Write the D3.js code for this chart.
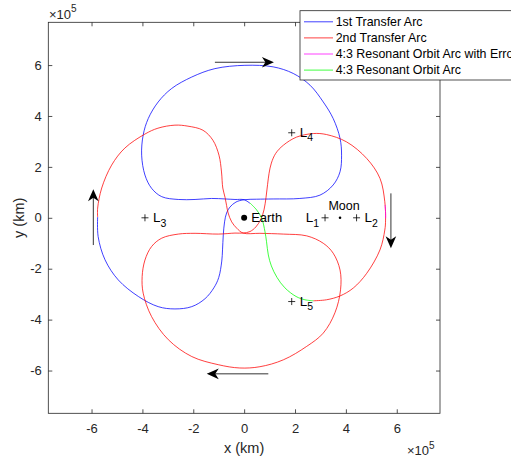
<!DOCTYPE html>
<html><head><meta charset="utf-8">
<script src="https://cdn.jsdelivr.net/npm/d3@7"></script>
<style>
html,body{margin:0;padding:0;background:#fff;}
svg{display:block;font-family:"Liberation Sans",Arial,Helvetica,sans-serif;}
</style></head><body>
<svg id="c" width="511" height="459"></svg>
<script>
// ---------- data (positions in units of 1e5 km) ----------
const UNIT = 1e5;
const xTicks = [-6, -4, -2, 0, 2, 4, 6];
const yTicks = [-6, -4, -2, 0, 2, 4, 6];
const xTickLabels = ["-6", "-4", "-2", "0", "2", "4", "6"];
const yTickLabels = ["-6", "-4", "-2", "0", "2", "4", "6"];
const legendLabels = ["1st Transfer Arc", "2nd Transfer Arc", "4:3 Resonant Orbit Arc with Error", "4:3 Resonant Orbit Arc"];
const seriesColors = ["#0000ff", "#ff0000", "#ff00ff", "#00ff00"];

const transfer1 = [[0.23,0.57],[0.0,0.71],[-0.36,0.72],[-0.75,0.74],[-1.28,0.76],[-1.93,0.72],[-2.59,0.72],[-3.24,0.83],[-3.64,1.16],[-3.90,1.68],[-4.03,2.46],[-3.97,3.25],[-3.77,3.90],[-3.38,4.55],[-2.85,5.08],[-2.06,5.53],[-1.15,5.86],[0.03,5.99],[1.14,5.93],[1.93,5.67],[2.59,5.21],[3.11,4.55],[3.50,3.90],[3.77,3.12],[3.83,2.46],[3.77,1.81],[3.50,1.29],[2.98,0.89],[2.19,0.76],[1.14,0.74],[0.49,0.73],[0.0,0.71],[-0.32,0.62],[-0.56,0.42],[-0.69,0.19],[-0.77,-0.16],[-0.82,-0.67],[-0.85,-1.26],[-0.88,-1.70],[-1.00,-2.35],[-1.19,-2.75],[-1.54,-3.18],[-2.06,-3.49],[-2.72,-3.58],[-3.38,-3.49],[-4.16,-3.09],[-4.95,-2.44],[-5.47,-1.65],[-5.74,-0.74],[-5.76,0.03]];

const transfer2 = [[-5.76,0.03],[-5.76,0.38],[-5.60,1.17],[-5.21,2.07],[-4.69,2.74],[-3.90,3.29],[-3.39,3.52],[-2.72,3.64],[-2.21,3.60],[-1.62,3.44],[-1.23,3.05],[-0.99,2.46],[-0.89,1.80],[-0.84,1.17],[-0.75,0.80],[-0.69,0.48],[-0.63,0.19],[-0.49,-0.16],[-0.29,-0.41],[-0.04,-0.60],[0.62,-0.61],[1.54,-0.64],[2.46,-0.71],[3.11,-1.00],[3.50,-1.39],[3.77,-2.05],[3.79,-2.83],[3.57,-3.73],[3.11,-4.53],[2.46,-5.05],[1.54,-5.58],[0.62,-5.85],[-0.17,-5.90],[-1.02,-5.77],[-2.06,-5.45],[-2.98,-4.79],[-3.64,-3.88],[-3.97,-2.96],[-4.01,-2.31],[-3.90,-1.66],[-3.64,-1.13],[-3.24,-0.80],[-2.59,-0.64],[-1.93,-0.61],[-1.02,-0.64],[-0.36,-0.60],[-0.04,-0.60],[0.23,-0.54],[0.46,-0.36],[0.66,-0.05],[0.78,0.31],[0.86,0.80],[0.92,1.30],[0.98,1.75],[1.07,2.15],[1.24,2.53],[1.54,2.85],[2.06,3.17],[2.72,3.31],[3.24,3.27],[4.03,2.98],[4.82,2.33],[5.34,1.55],[5.53,0.63],[5.56,-0.09],[5.53,-0.48],[5.34,-1.26],[4.82,-2.18],[4.29,-2.76],[3.77,-3.07],[3.24,-3.22],[2.72,-3.26]];

const resonantErr = [[5.54,0.50],[5.56,0.20],[5.56,-0.02]];

const resonant = [[0.23,0.58],[0.49,0.31],[0.69,-0.02],[0.82,-0.55],[0.88,-0.94],[0.95,-1.46],[1.07,-1.89],[1.29,-2.34],[1.60,-2.75],[2.04,-3.09],[2.39,-3.22],[2.72,-3.26]];

const bodies = [{name: "Earth", x: 0, y: 0, r: 3}, {name: "Moon", x: 3.77, y: 0, r: 1.3}];
const lagrange = [
  {name: "L", sub: "1", x: 3.18, y: 0, side: "left"},
  {name: "L", sub: "2", x: 4.42, y: 0, side: "right"},
  {name: "L", sub: "3", x: -3.90, y: 0, side: "right"},
  {name: "L", sub: "4", x: 1.87, y: 3.34, side: "right"},
  {name: "L", sub: "5", x: 1.87, y: -3.29, side: "right"}
];
const arrows = [
  {from: [-1.15, 6.11], to: [1.17, 6.11]},
  {from: [5.77, 0.96], to: [5.77, -1.20]},
  {from: [0.95, -6.13], to: [-1.47, -6.13]},
  {from: [-5.93, -1.07], to: [-5.93, 1.12]}
];

// ---------- chart ----------
const svg = d3.select("#c");
const L = 48.3, R = 440, T = 22.3, B = 413.3;
const x = d3.scaleLinear().domain([-7.7 * UNIT, 7.7 * UNIT]).range([L, R]);
const y = d3.scaleLinear().domain([-7.68 * UNIT, 7.68 * UNIT]).range([B, T]);
const axisCol = "#262626";

svg.append("rect").attr("width", 511).attr("height", 459).attr("fill", "#fff");

const tickVals = a => a.map(v => v * UNIT);
const gB = svg.append("g").attr("transform", `translate(0,${B})`)
  .call(d3.axisBottom(x).tickValues(tickVals(xTicks)).tickFormat((d, i) => xTickLabels[i]).tickSizeInner(-4).tickSizeOuter(0).tickPadding(10));
const gL = svg.append("g").attr("transform", `translate(${L},0)`)
  .call(d3.axisLeft(y).tickValues(tickVals(yTicks)).tickFormat((d, i) => yTickLabels[i]).tickSizeInner(-4).tickSizeOuter(0).tickPadding(6.5));
const gT = svg.append("g").attr("transform", `translate(0,${T})`)
  .call(d3.axisTop(x).tickValues(tickVals(xTicks)).tickFormat("").tickSizeInner(-4).tickSizeOuter(0));
const gR = svg.append("g").attr("transform", `translate(${R},0)`)
  .call(d3.axisRight(y).tickValues(tickVals(yTicks)).tickFormat("").tickSizeInner(-4).tickSizeOuter(0));
[gB, gL, gT, gR].forEach(g => {
  g.select(".domain").remove();
  g.selectAll("line").attr("stroke", axisCol).attr("stroke-width", 0.8);
  g.selectAll("text").attr("fill", axisCol).attr("font-size", 13).attr("font-family", null);
});
svg.append("rect").attr("x", L).attr("y", T).attr("width", R - L).attr("height", B - T)
  .attr("fill", "none").attr("stroke", axisCol).attr("stroke-width", 0.8);

// exponent labels
const exp1 = svg.append("text").attr("x", 49).attr("y", 18.5).attr("fill", axisCol).attr("font-size", 13);
exp1.append("tspan").text("\u00d710");
exp1.append("tspan").attr("dy", -6.5).attr("font-size", 10).text("5");
const exp2 = svg.append("text").attr("x", 407).attr("y", 455).attr("fill", axisCol).attr("font-size", 13);
exp2.append("tspan").text("\u00d710");
exp2.append("tspan").attr("dy", -6.5).attr("font-size", 10).text("5");

// axis titles
svg.append("text").attr("x", (L + R) / 2).attr("y", 452.5).attr("text-anchor", "middle")
  .attr("font-size", 14.5).attr("fill", axisCol).text("x (km)");
svg.append("text").attr("transform", `translate(24,${y(0)}) rotate(-90)`).attr("text-anchor", "middle")
  .attr("font-size", 14.5).attr("fill", axisCol).text("y (km)");

// curves
const line = d3.line().x(d => x(d[0] * UNIT)).y(d => y(d[1] * UNIT)).curve(d3.curveCatmullRom.alpha(0.5));
const series = [transfer1, transfer2, resonantErr, resonant];
series.forEach((s, i) => {
  svg.append("path").attr("d", line(s)).attr("fill", "none")
    .attr("stroke", seriesColors[i]).attr("stroke-width", 0.75);
});

// bodies
bodies.forEach(b => {
  svg.append("circle").attr("cx", x(b.x * UNIT)).attr("cy", y(b.y * UNIT)).attr("r", b.r).attr("fill", "#000");
});
svg.append("text").attr("x", x(0) + 7).attr("y", y(0) + 4.3).attr("font-size", 13).attr("fill", "#000").text("Earth");
svg.append("text").attr("x", x(3.77 * UNIT) + 4).attr("y", y(0) - 7.5).attr("text-anchor", "middle")
  .attr("font-size", 12.5).attr("fill", "#000").text("Moon");

// Lagrange points
lagrange.forEach(p => {
  const px = x(p.x * UNIT), py = y(p.y * UNIT);
  svg.append("path").attr("d", `M${px - 3.5},${py}H${px + 3.5}M${px},${py - 3.5}V${py + 3.5}`)
    .attr("stroke", "#000").attr("stroke-width", 0.8);
  const t = svg.append("text").attr("font-size", 13.5).attr("fill", "#000")
    .attr("y", py + 4.2)
    .attr("x", p.side === "left" ? px - 6 : px + 8)
    .attr("text-anchor", p.side === "left" ? "end" : "start");
  t.append("tspan").text(p.name);
  t.append("tspan").attr("dy", 4.5).attr("font-size", 10.5).text(p.sub);
});

// arrows
arrows.forEach(a => {
  const x0 = x(a.from[0] * UNIT), y0 = y(a.from[1] * UNIT);
  const x1 = x(a.to[0] * UNIT), y1 = y(a.to[1] * UNIT);
  const ang = Math.atan2(y1 - y0, x1 - x0);
  const len = 12, hw = 5.3, notch = 3.5;
  const c = Math.cos(ang), s = Math.sin(ang);
  const P = (u, v) => [x1 - u * c - v * s, y1 - u * s + v * c];
  svg.append("line").attr("x1", x0).attr("y1", y0).attr("x2", P(notch + 1, 0)[0]).attr("y2", P(notch + 1, 0)[1])
    .attr("stroke", "#000").attr("stroke-width", 0.8);
  const pts = [P(0, 0), P(len, hw), P(len - notch, 0), P(len, -hw)];
  svg.append("path").attr("d", "M" + pts.map(p => p.join(",")).join("L") + "Z").attr("fill", "#000");
});

// legend
const lg = svg.append("g");
lg.append("rect").attr("x", 300).attr("y", 10.7).attr("width", 230).attr("height", 69.3)
  .attr("fill", "#fff").attr("stroke", axisCol).attr("stroke-width", 0.8);
legendLabels.forEach((lab, i) => {
  const cy = 21.8 + i * 16.1;
  lg.append("line").attr("x1", 304).attr("x2", 333).attr("y1", cy).attr("y2", cy)
    .attr("stroke", seriesColors[i]).attr("stroke-width", 0.75);
  lg.append("text").attr("x", 335.7).attr("y", cy + 4.3).attr("font-size", 12.4).attr("fill", "#000").text(lab);
});
</script>
</body></html>
